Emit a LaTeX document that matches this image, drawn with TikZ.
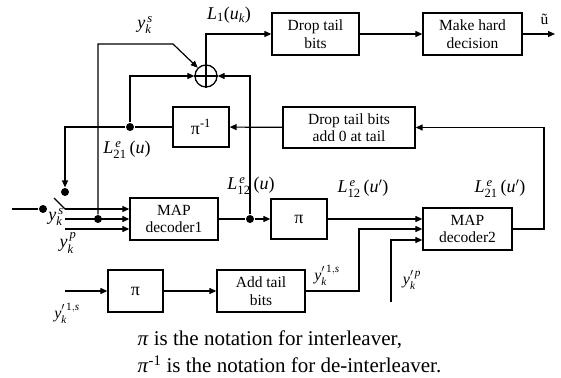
\documentclass[tikz,border=0pt]{standalone}
\usepackage{fontspec}
\setmainfont{Liberation Serif}
\usepackage{amsmath}
\usetikzlibrary{arrows.meta, calc}

\begin{document}
\begin{tikzpicture}[x=1pt, y=-1pt, >={Triangle[length=7pt, width=6pt]}, line width=1.2pt,
  every node/.style={font=\fontsize{15.5}{17.5}\selectfont},
  blk/.style={draw, line width=1.3pt, align=center, inner sep=0pt, minimum height=42pt},
  dotc/.style={circle, fill, inner sep=0pt, minimum size=8pt},
  lbl/.style={font=\fontsize{18}{20}\selectfont, inner sep=0pt}]
  \useasboundingbox (0,0) rectangle (561,377);

  \node[blk, minimum width=87pt] (droptail) at (315.5,34) {Drop tail\\bits};
  \node[blk, minimum width=99pt] (hard) at (472.5,34) {Make hard\\decision};
  \node[draw, circle, minimum size=22pt, inner sep=0pt, line width=1.3pt] (sum) at (206,76) {};
  \draw (sum.north) -- (sum.south) (sum.west) -- (sum.east);
  \node[blk, minimum width=56pt, minimum height=40pt, font=\fontsize{18}{20}\selectfont] (deint) at (201,127) {π\textsuperscript{-1}};
  \node[blk, minimum width=132pt, minimum height=41pt] (dropadd) at (349,127.5) {Drop tail bits\\add 0 at tail};
  \node[blk, minimum width=88pt] (dec1) at (174,219) {MAP\\decoder1};
  \node[blk, minimum width=56pt, minimum height=40pt, font=\fontsize{18}{20}\selectfont] (int1) at (299,219) {π};
  \node[blk, minimum width=89pt] (dec2) at (467.5,229) {MAP\\decoder2};
  \node[blk, minimum width=55pt, font=\fontsize{18}{20}\selectfont] (int2) at (135.5,291) {π};
  \node[blk, minimum width=88pt] (addtail) at (261,291) {Add tail\\bits};

  \node[dotc] (d21) at (130,127) {};
  \node[dotc] (d12) at (250,219) {};
  \node[dotc] (dys) at (98,219) {};
  \node[dotc] (swin) at (43,209) {};
  \node[dotc] (swtop) at (65,192) {};

  \coordinate (uout) at (555,34);
  \coordinate (ysbend) at (173,44);
  \coordinate (fbk) at (544,127.5);
  \coordinate (in) at (12,209);
  \coordinate (arm) at (54,198);
  \coordinate (sw) at (65,209);
  \coordinate (ys) at (65,219);
  \coordinate (yp) at (65,229);
  \coordinate (ysbend2) at (359,229);
  \coordinate (yp2) at (391,302);
  \coordinate (in2) at (65,291);

  \draw[->] (sum.north) |- (droptail.west);
  \draw[->] (droptail) -- (hard);
  \draw[->] (hard) -- (uout) node[at end, anchor=south east, inner sep=0pt, xshift=-6pt, yshift=9pt] {ũ};
  \draw[->] (dys) |- (ysbend) -- (sum.north west);
  \draw[->] (d21) |- (sum.west);
  \draw[->] (d12) |- (sum.east);
  \draw[->] (dropadd) -- (deint);
  \draw[->] (dec2.east) -| (fbk) -- (dropadd.east);
  \draw (deint.west) -- (d21);
  \draw[->] (d21) -| (swtop.north);
  \draw (in) -- (swin);
  \draw (arm) -- (sw);
  \draw[->] (sw) -- (sw -| dec1.west);
  \draw[->] (ys) -- (ys -| dec1.west);
  \draw[->] (yp) -- (yp -| dec1.west);
  \draw (dec1.east) -- (d12);
  \draw[->] (d12) -- (int1.west);
  \draw[->] (int1) -- (int1 -| dec2.west);
  \draw[->] (addtail.east) -| (ysbend2) -- (ysbend2 -| dec2.west);
  \draw[->] (yp2) |- ($(dec2.west)+(0,11)$);
  \draw[->] (in2) -- (int2);
  \draw[->] (int2) -- (addtail);

  \node[lbl] (lys) at (145,25) {\textit{y}$_{\textit{k}}^{\,\textit{s}}$};
  \node[lbl] (l1) at (229,15) {\textit{L}$_{\text{1}}$(\textit{u}$_{\textit{k}}$)};
  \node[lbl] (l21) at (127,150) {\textit{L}$^{\,\textit{e}}_{\text{21}}$\,(\textit{u})};
  \node[lbl] (l12) at (251,186) {\textit{L}$^{\,\textit{e}}_{\text{12}}$\,(\textit{u})};
  \node[lbl] (l12p) at (363,189) {\textit{L}$^{\,\textit{e}}_{\text{12}}$\,(\textit{u}$'$)};
  \node[lbl] (l21p) at (500,189) {\textit{L}$^{\,\textit{e}}_{\text{21}}$\,(\textit{u}$'$)};
  \node[lbl] (lysw) at (56,217) {\textit{y}$_{\textit{k}}^{\,\textit{s}}$};
  \node[lbl] (lyp) at (68,243) {\textit{y}$_{\textit{k}}^{\,\textit{p}}$};
  \node[lbl, font=\fontsize{16}{18}\selectfont] (ly1s) at (327,275) {\textit{y}$'^{\,\text{1},\textit{s}}_{\textit{k}}$};
  \node[lbl, font=\fontsize{16}{18}\selectfont] (lyp2) at (412,280) {\textit{y}$'^{\,\textit{p}}_{\textit{k}}$};
  \node[lbl, font=\fontsize{16}{18}\selectfont] (ly1s2) at (67,313) {\textit{y}$'^{\,\text{1},\textit{s}}_{\textit{k}}$};

  \node[anchor=west, align=left, inner sep=0pt, font=\fontsize{21}{27}\selectfont] (note) at (137,352)
    {\textit{π} is the notation for interleaver,\\\textit{π}\textsuperscript{-1} is the notation for de-interleaver.};
\end{tikzpicture}
\end{document}
